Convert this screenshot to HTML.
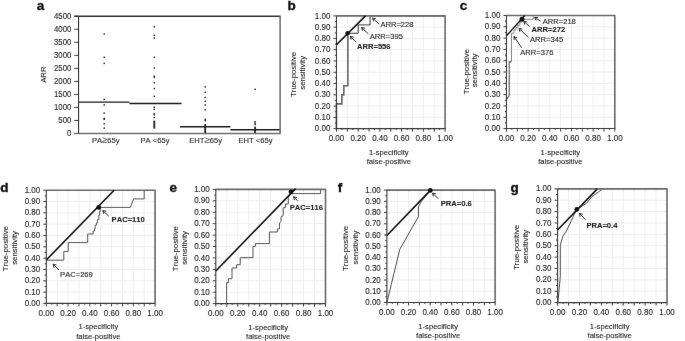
<!DOCTYPE html><html><head><meta charset="utf-8"><style>html,body{margin:0;padding:0;background:#fff;}svg{display:block;font-family:"Liberation Sans",sans-serif;}text{stroke-width:0.1px;stroke-linejoin:round;font-variant-ligatures:none;font-kerning:none;}</style></head><body>
<svg width="685" height="341" viewBox="0 0 685 341">
<defs><filter id="bl" x="0" y="0" width="1" height="1" color-interpolation-filters="sRGB"><feConvolveMatrix order="3" kernelMatrix="0.00163 0.03713 0.00163 0.03713 0.84497 0.03713 0.00163 0.03713 0.00163" divisor="1" edgeMode="duplicate"/></filter></defs>
<rect width="685" height="341" fill="#fff"/>
<g filter="url(#bl)">
<rect width="685" height="341" fill="#fff"/>
<text x="36.80" y="9.80" font-size="13.5" font-weight="bold" fill="#111" stroke="#111" style="stroke-width:0.35px">a</text>
<line x1="74.30" y1="133.50" x2="78.55" y2="133.50" stroke="#3a3a3a" stroke-width="1"/>
<text transform="translate(71.30 136.30) scale(1 1.06)" font-size="7.8" text-anchor="end" fill="#222" stroke="#222">0</text>
<line x1="74.30" y1="120.47" x2="78.55" y2="120.47" stroke="#3a3a3a" stroke-width="1"/>
<text transform="translate(71.30 123.27) scale(1 1.06)" font-size="7.8" text-anchor="end" fill="#222" stroke="#222">500</text>
<line x1="74.30" y1="107.44" x2="78.55" y2="107.44" stroke="#3a3a3a" stroke-width="1"/>
<text transform="translate(71.30 110.24) scale(1 1.06)" font-size="7.8" text-anchor="end" fill="#222" stroke="#222">1000</text>
<line x1="74.30" y1="94.42" x2="78.55" y2="94.42" stroke="#3a3a3a" stroke-width="1"/>
<text transform="translate(71.30 97.22) scale(1 1.06)" font-size="7.8" text-anchor="end" fill="#222" stroke="#222">1500</text>
<line x1="74.30" y1="81.39" x2="78.55" y2="81.39" stroke="#3a3a3a" stroke-width="1"/>
<text transform="translate(71.30 84.19) scale(1 1.06)" font-size="7.8" text-anchor="end" fill="#222" stroke="#222">2000</text>
<line x1="74.30" y1="68.36" x2="78.55" y2="68.36" stroke="#3a3a3a" stroke-width="1"/>
<text transform="translate(71.30 71.16) scale(1 1.06)" font-size="7.8" text-anchor="end" fill="#222" stroke="#222">2500</text>
<line x1="74.30" y1="55.33" x2="78.55" y2="55.33" stroke="#3a3a3a" stroke-width="1"/>
<text transform="translate(71.30 58.13) scale(1 1.06)" font-size="7.8" text-anchor="end" fill="#222" stroke="#222">3000</text>
<line x1="74.30" y1="42.31" x2="78.55" y2="42.31" stroke="#3a3a3a" stroke-width="1"/>
<text transform="translate(71.30 45.11) scale(1 1.06)" font-size="7.8" text-anchor="end" fill="#222" stroke="#222">3500</text>
<line x1="74.30" y1="29.28" x2="78.55" y2="29.28" stroke="#3a3a3a" stroke-width="1"/>
<text transform="translate(71.30 32.08) scale(1 1.06)" font-size="7.8" text-anchor="end" fill="#222" stroke="#222">4000</text>
<line x1="74.30" y1="16.25" x2="78.55" y2="16.25" stroke="#3a3a3a" stroke-width="1"/>
<text transform="translate(71.30 19.05) scale(1 1.06)" font-size="7.8" text-anchor="end" fill="#222" stroke="#222">4500</text>
<text transform="translate(45.60 74.60) rotate(-90)" font-size="7.8" text-anchor="middle" fill="#222" stroke="#222">ARR</text>
<line x1="78.55" y1="102.10" x2="129.40" y2="102.10" stroke="#1a1a1a" stroke-width="1.45"/>
<line x1="129.40" y1="103.50" x2="181.50" y2="103.50" stroke="#1a1a1a" stroke-width="1.45"/>
<line x1="180.10" y1="126.70" x2="230.40" y2="126.70" stroke="#1a1a1a" stroke-width="1.45"/>
<line x1="230.40" y1="129.70" x2="280.10" y2="129.70" stroke="#1a1a1a" stroke-width="1.45"/>
<rect x="103.48" y="33.28" width="1.45" height="1.45" fill="#222"/>
<rect x="103.48" y="56.58" width="1.45" height="1.45" fill="#222"/>
<rect x="103.48" y="62.68" width="1.45" height="1.45" fill="#222"/>
<rect x="103.48" y="98.68" width="1.45" height="1.45" fill="#222"/>
<rect x="103.48" y="104.18" width="1.45" height="1.45" fill="#222"/>
<rect x="103.48" y="112.38" width="1.45" height="1.45" fill="#222"/>
<rect x="103.48" y="117.58" width="1.45" height="1.45" fill="#222"/>
<rect x="103.48" y="118.58" width="1.45" height="1.45" fill="#222"/>
<rect x="103.48" y="123.08" width="1.45" height="1.45" fill="#222"/>
<rect x="103.48" y="127.38" width="1.45" height="1.45" fill="#222"/>
<rect x="153.58" y="26.08" width="1.45" height="1.45" fill="#222"/>
<rect x="153.58" y="34.58" width="1.45" height="1.45" fill="#222"/>
<rect x="153.58" y="37.38" width="1.45" height="1.45" fill="#222"/>
<rect x="153.58" y="56.58" width="1.45" height="1.45" fill="#222"/>
<rect x="153.58" y="67.38" width="1.45" height="1.45" fill="#222"/>
<rect x="153.58" y="75.48" width="1.45" height="1.45" fill="#222"/>
<rect x="153.58" y="76.68" width="1.45" height="1.45" fill="#222"/>
<rect x="153.58" y="81.98" width="1.45" height="1.45" fill="#222"/>
<rect x="153.58" y="87.78" width="1.45" height="1.45" fill="#222"/>
<rect x="153.58" y="95.58" width="1.45" height="1.45" fill="#222"/>
<rect x="153.58" y="106.48" width="1.45" height="1.45" fill="#222"/>
<rect x="153.58" y="108.48" width="1.45" height="1.45" fill="#222"/>
<rect x="153.58" y="113.08" width="1.45" height="1.45" fill="#222"/>
<rect x="153.58" y="113.98" width="1.45" height="1.45" fill="#222"/>
<rect x="153.58" y="116.98" width="1.45" height="1.45" fill="#222"/>
<rect x="204.48" y="86.18" width="1.45" height="1.45" fill="#222"/>
<rect x="204.48" y="91.58" width="1.45" height="1.45" fill="#222"/>
<rect x="204.48" y="96.78" width="1.45" height="1.45" fill="#222"/>
<rect x="204.48" y="100.58" width="1.45" height="1.45" fill="#222"/>
<rect x="204.48" y="104.18" width="1.45" height="1.45" fill="#222"/>
<rect x="204.48" y="109.08" width="1.45" height="1.45" fill="#222"/>
<rect x="204.48" y="118.58" width="1.45" height="1.45" fill="#222"/>
<rect x="204.48" y="119.98" width="1.45" height="1.45" fill="#222"/>
<rect x="254.38" y="88.58" width="1.45" height="1.45" fill="#222"/>
<rect x="254.38" y="121.08" width="1.45" height="1.45" fill="#222"/>
<rect x="254.38" y="122.38" width="1.45" height="1.45" fill="#222"/>
<rect x="254.38" y="123.88" width="1.45" height="1.45" fill="#222"/>
<rect x="153.4" y="120.6" width="1.8" height="8" fill="#222"/>
<rect x="204.3" y="124" width="1.8" height="9.4" fill="#222"/>
<rect x="254.2" y="126.7" width="1.8" height="6.7" fill="#222"/>
<line x1="74.20" y1="16.25" x2="280.60" y2="16.25" stroke="#333" stroke-width="1.3"/>
<line x1="280.10" y1="16.25" x2="280.10" y2="134.00" stroke="#6a6a6a" stroke-width="1.5"/>
<line x1="74.20" y1="133.50" x2="280.10" y2="133.50" stroke="#707070" stroke-width="1.6"/>
<line x1="78.55" y1="16.25" x2="78.55" y2="133.50" stroke="#333" stroke-width="1.1"/>
<text x="91.90" y="143.40" font-size="7.6" text-anchor="start" fill="#222" stroke="#222">PA<tspan font-size="9.6" fill="#666" stroke="#666" stroke-width="0.15">≥</tspan>65y</text>
<text x="155.00" y="143.40" font-size="7.6" text-anchor="middle" fill="#222" stroke="#222">PA &lt;65y</text>
<text x="189.30" y="143.40" font-size="7.6" text-anchor="start" fill="#222" stroke="#222">EHT<tspan font-size="9.6" fill="#666" stroke="#666" stroke-width="0.15">≥</tspan>65y</text>
<text x="255.50" y="143.40" font-size="7.6" text-anchor="middle" fill="#222" stroke="#222">EHT &lt;65y</text>
<line x1="347.31" y1="15.90" x2="347.31" y2="128.65" stroke="#efefef" stroke-width="1"/>
<line x1="336.45" y1="117.38" x2="445.10" y2="117.38" stroke="#efefef" stroke-width="1"/>
<line x1="358.18" y1="15.90" x2="358.18" y2="128.65" stroke="#efefef" stroke-width="1"/>
<line x1="336.45" y1="106.10" x2="445.10" y2="106.10" stroke="#efefef" stroke-width="1"/>
<line x1="369.05" y1="15.90" x2="369.05" y2="128.65" stroke="#efefef" stroke-width="1"/>
<line x1="336.45" y1="94.83" x2="445.10" y2="94.83" stroke="#efefef" stroke-width="1"/>
<line x1="379.91" y1="15.90" x2="379.91" y2="128.65" stroke="#efefef" stroke-width="1"/>
<line x1="336.45" y1="83.55" x2="445.10" y2="83.55" stroke="#efefef" stroke-width="1"/>
<line x1="390.78" y1="15.90" x2="390.78" y2="128.65" stroke="#efefef" stroke-width="1"/>
<line x1="336.45" y1="72.28" x2="445.10" y2="72.28" stroke="#efefef" stroke-width="1"/>
<line x1="401.64" y1="15.90" x2="401.64" y2="128.65" stroke="#efefef" stroke-width="1"/>
<line x1="336.45" y1="61.00" x2="445.10" y2="61.00" stroke="#efefef" stroke-width="1"/>
<line x1="412.50" y1="15.90" x2="412.50" y2="128.65" stroke="#efefef" stroke-width="1"/>
<line x1="336.45" y1="49.73" x2="445.10" y2="49.73" stroke="#efefef" stroke-width="1"/>
<line x1="423.37" y1="15.90" x2="423.37" y2="128.65" stroke="#efefef" stroke-width="1"/>
<line x1="336.45" y1="38.45" x2="445.10" y2="38.45" stroke="#efefef" stroke-width="1"/>
<line x1="434.24" y1="15.90" x2="434.24" y2="128.65" stroke="#efefef" stroke-width="1"/>
<line x1="336.45" y1="27.18" x2="445.10" y2="27.18" stroke="#efefef" stroke-width="1"/>
<line x1="333.45" y1="128.65" x2="336.45" y2="128.65" stroke="#3a3a3a" stroke-width="1"/>
<line x1="334.85" y1="123.01" x2="336.45" y2="123.01" stroke="#3a3a3a" stroke-width="1"/>
<line x1="333.45" y1="117.38" x2="336.45" y2="117.38" stroke="#3a3a3a" stroke-width="1"/>
<line x1="334.85" y1="111.74" x2="336.45" y2="111.74" stroke="#3a3a3a" stroke-width="1"/>
<line x1="333.45" y1="106.10" x2="336.45" y2="106.10" stroke="#3a3a3a" stroke-width="1"/>
<line x1="334.85" y1="100.46" x2="336.45" y2="100.46" stroke="#3a3a3a" stroke-width="1"/>
<line x1="333.45" y1="94.83" x2="336.45" y2="94.83" stroke="#3a3a3a" stroke-width="1"/>
<line x1="334.85" y1="89.19" x2="336.45" y2="89.19" stroke="#3a3a3a" stroke-width="1"/>
<line x1="333.45" y1="83.55" x2="336.45" y2="83.55" stroke="#3a3a3a" stroke-width="1"/>
<line x1="334.85" y1="77.91" x2="336.45" y2="77.91" stroke="#3a3a3a" stroke-width="1"/>
<line x1="333.45" y1="72.28" x2="336.45" y2="72.28" stroke="#3a3a3a" stroke-width="1"/>
<line x1="334.85" y1="66.64" x2="336.45" y2="66.64" stroke="#3a3a3a" stroke-width="1"/>
<line x1="333.45" y1="61.00" x2="336.45" y2="61.00" stroke="#3a3a3a" stroke-width="1"/>
<line x1="334.85" y1="55.36" x2="336.45" y2="55.36" stroke="#3a3a3a" stroke-width="1"/>
<line x1="333.45" y1="49.73" x2="336.45" y2="49.73" stroke="#3a3a3a" stroke-width="1"/>
<line x1="334.85" y1="44.09" x2="336.45" y2="44.09" stroke="#3a3a3a" stroke-width="1"/>
<line x1="333.45" y1="38.45" x2="336.45" y2="38.45" stroke="#3a3a3a" stroke-width="1"/>
<line x1="334.85" y1="32.81" x2="336.45" y2="32.81" stroke="#3a3a3a" stroke-width="1"/>
<line x1="333.45" y1="27.18" x2="336.45" y2="27.18" stroke="#3a3a3a" stroke-width="1"/>
<line x1="334.85" y1="21.54" x2="336.45" y2="21.54" stroke="#3a3a3a" stroke-width="1"/>
<line x1="333.45" y1="15.90" x2="336.45" y2="15.90" stroke="#3a3a3a" stroke-width="1"/>
<line x1="336.45" y1="128.65" x2="336.45" y2="131.65" stroke="#3a3a3a" stroke-width="1"/>
<line x1="341.88" y1="128.65" x2="341.88" y2="130.05" stroke="#3a3a3a" stroke-width="1"/>
<line x1="347.31" y1="128.65" x2="347.31" y2="131.65" stroke="#3a3a3a" stroke-width="1"/>
<line x1="352.75" y1="128.65" x2="352.75" y2="130.05" stroke="#3a3a3a" stroke-width="1"/>
<line x1="358.18" y1="128.65" x2="358.18" y2="131.65" stroke="#3a3a3a" stroke-width="1"/>
<line x1="363.61" y1="128.65" x2="363.61" y2="130.05" stroke="#3a3a3a" stroke-width="1"/>
<line x1="369.05" y1="128.65" x2="369.05" y2="131.65" stroke="#3a3a3a" stroke-width="1"/>
<line x1="374.48" y1="128.65" x2="374.48" y2="130.05" stroke="#3a3a3a" stroke-width="1"/>
<line x1="379.91" y1="128.65" x2="379.91" y2="131.65" stroke="#3a3a3a" stroke-width="1"/>
<line x1="385.34" y1="128.65" x2="385.34" y2="130.05" stroke="#3a3a3a" stroke-width="1"/>
<line x1="390.78" y1="128.65" x2="390.78" y2="131.65" stroke="#3a3a3a" stroke-width="1"/>
<line x1="396.21" y1="128.65" x2="396.21" y2="130.05" stroke="#3a3a3a" stroke-width="1"/>
<line x1="401.64" y1="128.65" x2="401.64" y2="131.65" stroke="#3a3a3a" stroke-width="1"/>
<line x1="407.07" y1="128.65" x2="407.07" y2="130.05" stroke="#3a3a3a" stroke-width="1"/>
<line x1="412.50" y1="128.65" x2="412.50" y2="131.65" stroke="#3a3a3a" stroke-width="1"/>
<line x1="417.94" y1="128.65" x2="417.94" y2="130.05" stroke="#3a3a3a" stroke-width="1"/>
<line x1="423.37" y1="128.65" x2="423.37" y2="131.65" stroke="#3a3a3a" stroke-width="1"/>
<line x1="428.80" y1="128.65" x2="428.80" y2="130.05" stroke="#3a3a3a" stroke-width="1"/>
<line x1="434.24" y1="128.65" x2="434.24" y2="131.65" stroke="#3a3a3a" stroke-width="1"/>
<line x1="439.67" y1="128.65" x2="439.67" y2="130.05" stroke="#3a3a3a" stroke-width="1"/>
<line x1="445.10" y1="128.65" x2="445.10" y2="131.65" stroke="#3a3a3a" stroke-width="1"/>
<text transform="translate(330.35 131.25) scale(1 1.06)" font-size="8.0" text-anchor="end" fill="#222" stroke="#222">0.00</text>
<text transform="translate(330.35 119.97) scale(1 1.06)" font-size="8.0" text-anchor="end" fill="#222" stroke="#222">0.10</text>
<text transform="translate(330.35 108.70) scale(1 1.06)" font-size="8.0" text-anchor="end" fill="#222" stroke="#222">0.20</text>
<text transform="translate(330.35 97.42) scale(1 1.06)" font-size="8.0" text-anchor="end" fill="#222" stroke="#222">0.30</text>
<text transform="translate(330.35 86.15) scale(1 1.06)" font-size="8.0" text-anchor="end" fill="#222" stroke="#222">0.40</text>
<text transform="translate(330.35 74.88) scale(1 1.06)" font-size="8.0" text-anchor="end" fill="#222" stroke="#222">0.50</text>
<text transform="translate(330.35 63.60) scale(1 1.06)" font-size="8.0" text-anchor="end" fill="#222" stroke="#222">0.60</text>
<text transform="translate(330.35 52.33) scale(1 1.06)" font-size="8.0" text-anchor="end" fill="#222" stroke="#222">0.70</text>
<text transform="translate(330.35 41.05) scale(1 1.06)" font-size="8.0" text-anchor="end" fill="#222" stroke="#222">0.80</text>
<text transform="translate(330.35 29.78) scale(1 1.06)" font-size="8.0" text-anchor="end" fill="#222" stroke="#222">0.90</text>
<text transform="translate(330.35 18.50) scale(1 1.06)" font-size="8.0" text-anchor="end" fill="#222" stroke="#222">1.00</text>
<text transform="translate(336.45 141.10) scale(1 1.06)" font-size="8.0" text-anchor="middle" fill="#222" stroke="#222">0.00</text>
<text transform="translate(358.18 141.10) scale(1 1.06)" font-size="8.0" text-anchor="middle" fill="#222" stroke="#222">0.20</text>
<text transform="translate(379.91 141.10) scale(1 1.06)" font-size="8.0" text-anchor="middle" fill="#222" stroke="#222">0.40</text>
<text transform="translate(401.64 141.10) scale(1 1.06)" font-size="8.0" text-anchor="middle" fill="#222" stroke="#222">0.60</text>
<text transform="translate(423.37 141.10) scale(1 1.06)" font-size="8.0" text-anchor="middle" fill="#222" stroke="#222">0.80</text>
<text transform="translate(445.10 141.10) scale(1 1.06)" font-size="8.0" text-anchor="middle" fill="#222" stroke="#222">1.00</text>
<text x="388.80" y="154.65" font-size="7.6" text-anchor="middle" fill="#222" stroke="#222">1-specificity</text>
<text x="388.80" y="163.75" font-size="7.6" text-anchor="middle" fill="#222" stroke="#222">false-positive</text>
<text transform="translate(296.30 74.40) rotate(-90)" font-size="7.8" text-anchor="middle" fill="#222" stroke="#222">True-positive</text>
<text transform="translate(305.20 72.80) rotate(-90)" font-size="7.8" text-anchor="middle" fill="#222" stroke="#222">sensitivity</text>
<text x="287.60" y="9.90" font-size="13.5" font-weight="bold" fill="#111" stroke="#111" style="stroke-width:0.35px">b</text>
<polyline points="336.45,128.65 336.45,103.84 341.88,103.84 341.88,94.83 343.84,94.83 343.84,85.81 347.86,85.81 347.86,33.26" fill="none" stroke="#666" stroke-width="1.6" stroke-linejoin="miter"/>
<polyline points="347.31,33.26 358.18,33.26 358.18,24.92 370.13,24.92 370.13,15.90 445.10,15.90" fill="none" stroke="#3a3a3a" stroke-width="1.0" stroke-linejoin="miter"/>
<polyline points="336.45,15.90 445.10,15.90 445.10,128.65" fill="none" stroke="#6a6a6a" stroke-width="1.6" stroke-linejoin="round"/>
<line x1="336.45" y1="15.60" x2="336.45" y2="129.15" stroke="#3a3a3a" stroke-width="1.1"/>
<line x1="335.95" y1="128.65" x2="445.60" y2="128.65" stroke="#3a3a3a" stroke-width="1.1"/>
<polyline points="336.45,44.70 365.50,15.90" fill="none" stroke="#111" stroke-width="1.6" stroke-linejoin="miter"/>
<circle cx="347.60" cy="33.20" r="2.3" fill="#111"/>
<line x1="379.00" y1="24.00" x2="372.60" y2="18.10" stroke="#1a1a1a" stroke-width="0.9"/>
<line x1="372.60" y1="18.10" x2="373.50" y2="21.38" stroke="#1a1a1a" stroke-width="0.9"/>
<line x1="372.60" y1="18.10" x2="375.94" y2="18.73" stroke="#1a1a1a" stroke-width="0.9"/>
<line x1="368.30" y1="33.80" x2="361.60" y2="27.60" stroke="#1a1a1a" stroke-width="0.9"/>
<line x1="361.60" y1="27.60" x2="362.49" y2="30.88" stroke="#1a1a1a" stroke-width="0.9"/>
<line x1="361.60" y1="27.60" x2="364.94" y2="28.24" stroke="#1a1a1a" stroke-width="0.9"/>
<line x1="356.50" y1="42.30" x2="350.30" y2="36.40" stroke="#1a1a1a" stroke-width="0.9"/>
<line x1="350.30" y1="36.40" x2="351.15" y2="39.69" stroke="#1a1a1a" stroke-width="0.9"/>
<line x1="350.30" y1="36.40" x2="353.63" y2="37.08" stroke="#1a1a1a" stroke-width="0.9"/>
<text x="380.40" y="27.30" font-size="7.6" text-anchor="start" fill="#222" stroke="#222">ARR=228</text>
<text x="369.80" y="38.70" font-size="7.6" text-anchor="start" fill="#222" stroke="#222">ARR=395</text>
<text x="357.00" y="49.40" font-size="7.6" text-anchor="start" font-weight="bold" fill="#222" stroke="#222">ARR=556</text>
<line x1="517.28" y1="15.50" x2="517.28" y2="128.55" stroke="#efefef" stroke-width="1"/>
<line x1="506.45" y1="117.25" x2="614.80" y2="117.25" stroke="#efefef" stroke-width="1"/>
<line x1="528.12" y1="15.50" x2="528.12" y2="128.55" stroke="#efefef" stroke-width="1"/>
<line x1="506.45" y1="105.94" x2="614.80" y2="105.94" stroke="#efefef" stroke-width="1"/>
<line x1="538.95" y1="15.50" x2="538.95" y2="128.55" stroke="#efefef" stroke-width="1"/>
<line x1="506.45" y1="94.64" x2="614.80" y2="94.64" stroke="#efefef" stroke-width="1"/>
<line x1="549.79" y1="15.50" x2="549.79" y2="128.55" stroke="#efefef" stroke-width="1"/>
<line x1="506.45" y1="83.33" x2="614.80" y2="83.33" stroke="#efefef" stroke-width="1"/>
<line x1="560.62" y1="15.50" x2="560.62" y2="128.55" stroke="#efefef" stroke-width="1"/>
<line x1="506.45" y1="72.03" x2="614.80" y2="72.03" stroke="#efefef" stroke-width="1"/>
<line x1="571.46" y1="15.50" x2="571.46" y2="128.55" stroke="#efefef" stroke-width="1"/>
<line x1="506.45" y1="60.72" x2="614.80" y2="60.72" stroke="#efefef" stroke-width="1"/>
<line x1="582.29" y1="15.50" x2="582.29" y2="128.55" stroke="#efefef" stroke-width="1"/>
<line x1="506.45" y1="49.41" x2="614.80" y2="49.41" stroke="#efefef" stroke-width="1"/>
<line x1="593.13" y1="15.50" x2="593.13" y2="128.55" stroke="#efefef" stroke-width="1"/>
<line x1="506.45" y1="38.11" x2="614.80" y2="38.11" stroke="#efefef" stroke-width="1"/>
<line x1="603.96" y1="15.50" x2="603.96" y2="128.55" stroke="#efefef" stroke-width="1"/>
<line x1="506.45" y1="26.81" x2="614.80" y2="26.81" stroke="#efefef" stroke-width="1"/>
<line x1="503.45" y1="128.55" x2="506.45" y2="128.55" stroke="#3a3a3a" stroke-width="1"/>
<line x1="504.85" y1="122.90" x2="506.45" y2="122.90" stroke="#3a3a3a" stroke-width="1"/>
<line x1="503.45" y1="117.25" x2="506.45" y2="117.25" stroke="#3a3a3a" stroke-width="1"/>
<line x1="504.85" y1="111.59" x2="506.45" y2="111.59" stroke="#3a3a3a" stroke-width="1"/>
<line x1="503.45" y1="105.94" x2="506.45" y2="105.94" stroke="#3a3a3a" stroke-width="1"/>
<line x1="504.85" y1="100.29" x2="506.45" y2="100.29" stroke="#3a3a3a" stroke-width="1"/>
<line x1="503.45" y1="94.64" x2="506.45" y2="94.64" stroke="#3a3a3a" stroke-width="1"/>
<line x1="504.85" y1="88.98" x2="506.45" y2="88.98" stroke="#3a3a3a" stroke-width="1"/>
<line x1="503.45" y1="83.33" x2="506.45" y2="83.33" stroke="#3a3a3a" stroke-width="1"/>
<line x1="504.85" y1="77.68" x2="506.45" y2="77.68" stroke="#3a3a3a" stroke-width="1"/>
<line x1="503.45" y1="72.03" x2="506.45" y2="72.03" stroke="#3a3a3a" stroke-width="1"/>
<line x1="504.85" y1="66.37" x2="506.45" y2="66.37" stroke="#3a3a3a" stroke-width="1"/>
<line x1="503.45" y1="60.72" x2="506.45" y2="60.72" stroke="#3a3a3a" stroke-width="1"/>
<line x1="504.85" y1="55.07" x2="506.45" y2="55.07" stroke="#3a3a3a" stroke-width="1"/>
<line x1="503.45" y1="49.41" x2="506.45" y2="49.41" stroke="#3a3a3a" stroke-width="1"/>
<line x1="504.85" y1="43.76" x2="506.45" y2="43.76" stroke="#3a3a3a" stroke-width="1"/>
<line x1="503.45" y1="38.11" x2="506.45" y2="38.11" stroke="#3a3a3a" stroke-width="1"/>
<line x1="504.85" y1="32.46" x2="506.45" y2="32.46" stroke="#3a3a3a" stroke-width="1"/>
<line x1="503.45" y1="26.81" x2="506.45" y2="26.81" stroke="#3a3a3a" stroke-width="1"/>
<line x1="504.85" y1="21.15" x2="506.45" y2="21.15" stroke="#3a3a3a" stroke-width="1"/>
<line x1="503.45" y1="15.50" x2="506.45" y2="15.50" stroke="#3a3a3a" stroke-width="1"/>
<line x1="506.45" y1="128.55" x2="506.45" y2="131.55" stroke="#3a3a3a" stroke-width="1"/>
<line x1="511.87" y1="128.55" x2="511.87" y2="129.95" stroke="#3a3a3a" stroke-width="1"/>
<line x1="517.28" y1="128.55" x2="517.28" y2="131.55" stroke="#3a3a3a" stroke-width="1"/>
<line x1="522.70" y1="128.55" x2="522.70" y2="129.95" stroke="#3a3a3a" stroke-width="1"/>
<line x1="528.12" y1="128.55" x2="528.12" y2="131.55" stroke="#3a3a3a" stroke-width="1"/>
<line x1="533.54" y1="128.55" x2="533.54" y2="129.95" stroke="#3a3a3a" stroke-width="1"/>
<line x1="538.95" y1="128.55" x2="538.95" y2="131.55" stroke="#3a3a3a" stroke-width="1"/>
<line x1="544.37" y1="128.55" x2="544.37" y2="129.95" stroke="#3a3a3a" stroke-width="1"/>
<line x1="549.79" y1="128.55" x2="549.79" y2="131.55" stroke="#3a3a3a" stroke-width="1"/>
<line x1="555.21" y1="128.55" x2="555.21" y2="129.95" stroke="#3a3a3a" stroke-width="1"/>
<line x1="560.62" y1="128.55" x2="560.62" y2="131.55" stroke="#3a3a3a" stroke-width="1"/>
<line x1="566.04" y1="128.55" x2="566.04" y2="129.95" stroke="#3a3a3a" stroke-width="1"/>
<line x1="571.46" y1="128.55" x2="571.46" y2="131.55" stroke="#3a3a3a" stroke-width="1"/>
<line x1="576.88" y1="128.55" x2="576.88" y2="129.95" stroke="#3a3a3a" stroke-width="1"/>
<line x1="582.29" y1="128.55" x2="582.29" y2="131.55" stroke="#3a3a3a" stroke-width="1"/>
<line x1="587.71" y1="128.55" x2="587.71" y2="129.95" stroke="#3a3a3a" stroke-width="1"/>
<line x1="593.13" y1="128.55" x2="593.13" y2="131.55" stroke="#3a3a3a" stroke-width="1"/>
<line x1="598.55" y1="128.55" x2="598.55" y2="129.95" stroke="#3a3a3a" stroke-width="1"/>
<line x1="603.96" y1="128.55" x2="603.96" y2="131.55" stroke="#3a3a3a" stroke-width="1"/>
<line x1="609.38" y1="128.55" x2="609.38" y2="129.95" stroke="#3a3a3a" stroke-width="1"/>
<line x1="614.80" y1="128.55" x2="614.80" y2="131.55" stroke="#3a3a3a" stroke-width="1"/>
<text transform="translate(500.35 131.15) scale(1 1.06)" font-size="8.0" text-anchor="end" fill="#222" stroke="#222">0.00</text>
<text transform="translate(500.35 119.84) scale(1 1.06)" font-size="8.0" text-anchor="end" fill="#222" stroke="#222">0.10</text>
<text transform="translate(500.35 108.54) scale(1 1.06)" font-size="8.0" text-anchor="end" fill="#222" stroke="#222">0.20</text>
<text transform="translate(500.35 97.23) scale(1 1.06)" font-size="8.0" text-anchor="end" fill="#222" stroke="#222">0.30</text>
<text transform="translate(500.35 85.93) scale(1 1.06)" font-size="8.0" text-anchor="end" fill="#222" stroke="#222">0.40</text>
<text transform="translate(500.35 74.62) scale(1 1.06)" font-size="8.0" text-anchor="end" fill="#222" stroke="#222">0.50</text>
<text transform="translate(500.35 63.32) scale(1 1.06)" font-size="8.0" text-anchor="end" fill="#222" stroke="#222">0.60</text>
<text transform="translate(500.35 52.01) scale(1 1.06)" font-size="8.0" text-anchor="end" fill="#222" stroke="#222">0.70</text>
<text transform="translate(500.35 40.71) scale(1 1.06)" font-size="8.0" text-anchor="end" fill="#222" stroke="#222">0.80</text>
<text transform="translate(500.35 29.41) scale(1 1.06)" font-size="8.0" text-anchor="end" fill="#222" stroke="#222">0.90</text>
<text transform="translate(500.35 18.10) scale(1 1.06)" font-size="8.0" text-anchor="end" fill="#222" stroke="#222">1.00</text>
<text transform="translate(506.45 141.00) scale(1 1.06)" font-size="8.0" text-anchor="middle" fill="#222" stroke="#222">0.00</text>
<text transform="translate(528.12 141.00) scale(1 1.06)" font-size="8.0" text-anchor="middle" fill="#222" stroke="#222">0.20</text>
<text transform="translate(549.79 141.00) scale(1 1.06)" font-size="8.0" text-anchor="middle" fill="#222" stroke="#222">0.40</text>
<text transform="translate(571.46 141.00) scale(1 1.06)" font-size="8.0" text-anchor="middle" fill="#222" stroke="#222">0.60</text>
<text transform="translate(593.13 141.00) scale(1 1.06)" font-size="8.0" text-anchor="middle" fill="#222" stroke="#222">0.80</text>
<text transform="translate(614.80 141.00) scale(1 1.06)" font-size="8.0" text-anchor="middle" fill="#222" stroke="#222">1.00</text>
<text x="560.30" y="154.55" font-size="7.6" text-anchor="middle" fill="#222" stroke="#222">1-specificity</text>
<text x="560.30" y="163.65" font-size="7.6" text-anchor="middle" fill="#222" stroke="#222">false-positive</text>
<text transform="translate(468.70 71.60) rotate(-90)" font-size="7.8" text-anchor="middle" fill="#222" stroke="#222">True-positive</text>
<text transform="translate(476.80 70.40) rotate(-90)" font-size="7.8" text-anchor="middle" fill="#222" stroke="#222">sensitivity</text>
<text x="459.80" y="10.00" font-size="13.5" font-weight="bold" fill="#111" stroke="#111" style="stroke-width:0.35px">c</text>
<polyline points="506.45,99.60 509.20,95.50 509.20,61.90 511.50,61.90" fill="none" stroke="#555" stroke-width="1.1" stroke-linejoin="miter"/>
<polyline points="511.50,61.90 511.50,33.20 514.00,33.20 514.00,30.00 516.00,30.00 516.00,27.50 518.00,27.50 518.00,25.00 520.00,25.00 520.00,22.00 522.00,22.00 522.00,19.30 533.20,19.30 533.20,15.50" fill="none" stroke="#888" stroke-width="1.0" stroke-linejoin="miter"/>
<polyline points="506.45,15.50 614.80,15.50 614.80,128.55" fill="none" stroke="#6a6a6a" stroke-width="1.6" stroke-linejoin="round"/>
<line x1="506.45" y1="15.20" x2="506.45" y2="129.05" stroke="#3a3a3a" stroke-width="1.1"/>
<line x1="505.95" y1="128.55" x2="615.30" y2="128.55" stroke="#3a3a3a" stroke-width="1.1"/>
<polyline points="506.45,35.80 524.80,15.50" fill="none" stroke="#111" stroke-width="1.35" stroke-linejoin="miter"/>
<circle cx="522.00" cy="19.30" r="2.5" fill="#111"/>
<line x1="540.60" y1="21.00" x2="534.60" y2="17.60" stroke="#1a1a1a" stroke-width="0.9"/>
<line x1="534.60" y1="17.60" x2="536.22" y2="20.59" stroke="#1a1a1a" stroke-width="0.9"/>
<line x1="534.60" y1="17.60" x2="538.00" y2="17.45" stroke="#1a1a1a" stroke-width="0.9"/>
<line x1="529.80" y1="26.60" x2="523.80" y2="21.40" stroke="#1a1a1a" stroke-width="0.9"/>
<line x1="523.80" y1="21.40" x2="524.80" y2="24.65" stroke="#1a1a1a" stroke-width="0.9"/>
<line x1="523.80" y1="21.40" x2="527.16" y2="21.93" stroke="#1a1a1a" stroke-width="0.9"/>
<line x1="528.40" y1="37.20" x2="519.00" y2="28.50" stroke="#1a1a1a" stroke-width="0.9"/>
<line x1="519.00" y1="28.50" x2="519.89" y2="31.78" stroke="#1a1a1a" stroke-width="0.9"/>
<line x1="519.00" y1="28.50" x2="522.34" y2="29.14" stroke="#1a1a1a" stroke-width="0.9"/>
<line x1="521.60" y1="47.60" x2="514.00" y2="36.60" stroke="#1a1a1a" stroke-width="0.9"/>
<line x1="514.00" y1="36.60" x2="514.16" y2="40.00" stroke="#1a1a1a" stroke-width="0.9"/>
<line x1="514.00" y1="36.60" x2="517.12" y2="37.95" stroke="#1a1a1a" stroke-width="0.9"/>
<text x="542.70" y="23.90" font-size="7.6" text-anchor="start" fill="#222" stroke="#222">ARR=218</text>
<text x="531.60" y="32.10" font-size="7.6" text-anchor="start" font-weight="bold" fill="#222" stroke="#222">ARR=272</text>
<text x="530.00" y="42.40" font-size="7.6" text-anchor="start" fill="#222" stroke="#222">ARR=345</text>
<text x="520.30" y="54.50" font-size="7.6" text-anchor="start" fill="#222" stroke="#222">ARR=376</text>
<line x1="57.18" y1="190.25" x2="57.18" y2="303.40" stroke="#efefef" stroke-width="1"/>
<line x1="46.30" y1="292.08" x2="155.10" y2="292.08" stroke="#efefef" stroke-width="1"/>
<line x1="68.06" y1="190.25" x2="68.06" y2="303.40" stroke="#efefef" stroke-width="1"/>
<line x1="46.30" y1="280.77" x2="155.10" y2="280.77" stroke="#efefef" stroke-width="1"/>
<line x1="78.94" y1="190.25" x2="78.94" y2="303.40" stroke="#efefef" stroke-width="1"/>
<line x1="46.30" y1="269.45" x2="155.10" y2="269.45" stroke="#efefef" stroke-width="1"/>
<line x1="89.82" y1="190.25" x2="89.82" y2="303.40" stroke="#efefef" stroke-width="1"/>
<line x1="46.30" y1="258.14" x2="155.10" y2="258.14" stroke="#efefef" stroke-width="1"/>
<line x1="100.70" y1="190.25" x2="100.70" y2="303.40" stroke="#efefef" stroke-width="1"/>
<line x1="46.30" y1="246.82" x2="155.10" y2="246.82" stroke="#efefef" stroke-width="1"/>
<line x1="111.58" y1="190.25" x2="111.58" y2="303.40" stroke="#efefef" stroke-width="1"/>
<line x1="46.30" y1="235.51" x2="155.10" y2="235.51" stroke="#efefef" stroke-width="1"/>
<line x1="122.46" y1="190.25" x2="122.46" y2="303.40" stroke="#efefef" stroke-width="1"/>
<line x1="46.30" y1="224.19" x2="155.10" y2="224.19" stroke="#efefef" stroke-width="1"/>
<line x1="133.34" y1="190.25" x2="133.34" y2="303.40" stroke="#efefef" stroke-width="1"/>
<line x1="46.30" y1="212.88" x2="155.10" y2="212.88" stroke="#efefef" stroke-width="1"/>
<line x1="144.22" y1="190.25" x2="144.22" y2="303.40" stroke="#efefef" stroke-width="1"/>
<line x1="46.30" y1="201.56" x2="155.10" y2="201.56" stroke="#efefef" stroke-width="1"/>
<line x1="43.30" y1="303.40" x2="46.30" y2="303.40" stroke="#3a3a3a" stroke-width="1"/>
<line x1="44.70" y1="297.74" x2="46.30" y2="297.74" stroke="#3a3a3a" stroke-width="1"/>
<line x1="43.30" y1="292.08" x2="46.30" y2="292.08" stroke="#3a3a3a" stroke-width="1"/>
<line x1="44.70" y1="286.43" x2="46.30" y2="286.43" stroke="#3a3a3a" stroke-width="1"/>
<line x1="43.30" y1="280.77" x2="46.30" y2="280.77" stroke="#3a3a3a" stroke-width="1"/>
<line x1="44.70" y1="275.11" x2="46.30" y2="275.11" stroke="#3a3a3a" stroke-width="1"/>
<line x1="43.30" y1="269.45" x2="46.30" y2="269.45" stroke="#3a3a3a" stroke-width="1"/>
<line x1="44.70" y1="263.80" x2="46.30" y2="263.80" stroke="#3a3a3a" stroke-width="1"/>
<line x1="43.30" y1="258.14" x2="46.30" y2="258.14" stroke="#3a3a3a" stroke-width="1"/>
<line x1="44.70" y1="252.48" x2="46.30" y2="252.48" stroke="#3a3a3a" stroke-width="1"/>
<line x1="43.30" y1="246.82" x2="46.30" y2="246.82" stroke="#3a3a3a" stroke-width="1"/>
<line x1="44.70" y1="241.17" x2="46.30" y2="241.17" stroke="#3a3a3a" stroke-width="1"/>
<line x1="43.30" y1="235.51" x2="46.30" y2="235.51" stroke="#3a3a3a" stroke-width="1"/>
<line x1="44.70" y1="229.85" x2="46.30" y2="229.85" stroke="#3a3a3a" stroke-width="1"/>
<line x1="43.30" y1="224.19" x2="46.30" y2="224.19" stroke="#3a3a3a" stroke-width="1"/>
<line x1="44.70" y1="218.54" x2="46.30" y2="218.54" stroke="#3a3a3a" stroke-width="1"/>
<line x1="43.30" y1="212.88" x2="46.30" y2="212.88" stroke="#3a3a3a" stroke-width="1"/>
<line x1="44.70" y1="207.22" x2="46.30" y2="207.22" stroke="#3a3a3a" stroke-width="1"/>
<line x1="43.30" y1="201.56" x2="46.30" y2="201.56" stroke="#3a3a3a" stroke-width="1"/>
<line x1="44.70" y1="195.91" x2="46.30" y2="195.91" stroke="#3a3a3a" stroke-width="1"/>
<line x1="43.30" y1="190.25" x2="46.30" y2="190.25" stroke="#3a3a3a" stroke-width="1"/>
<line x1="46.30" y1="303.40" x2="46.30" y2="306.40" stroke="#3a3a3a" stroke-width="1"/>
<line x1="51.74" y1="303.40" x2="51.74" y2="304.80" stroke="#3a3a3a" stroke-width="1"/>
<line x1="57.18" y1="303.40" x2="57.18" y2="306.40" stroke="#3a3a3a" stroke-width="1"/>
<line x1="62.62" y1="303.40" x2="62.62" y2="304.80" stroke="#3a3a3a" stroke-width="1"/>
<line x1="68.06" y1="303.40" x2="68.06" y2="306.40" stroke="#3a3a3a" stroke-width="1"/>
<line x1="73.50" y1="303.40" x2="73.50" y2="304.80" stroke="#3a3a3a" stroke-width="1"/>
<line x1="78.94" y1="303.40" x2="78.94" y2="306.40" stroke="#3a3a3a" stroke-width="1"/>
<line x1="84.38" y1="303.40" x2="84.38" y2="304.80" stroke="#3a3a3a" stroke-width="1"/>
<line x1="89.82" y1="303.40" x2="89.82" y2="306.40" stroke="#3a3a3a" stroke-width="1"/>
<line x1="95.26" y1="303.40" x2="95.26" y2="304.80" stroke="#3a3a3a" stroke-width="1"/>
<line x1="100.70" y1="303.40" x2="100.70" y2="306.40" stroke="#3a3a3a" stroke-width="1"/>
<line x1="106.14" y1="303.40" x2="106.14" y2="304.80" stroke="#3a3a3a" stroke-width="1"/>
<line x1="111.58" y1="303.40" x2="111.58" y2="306.40" stroke="#3a3a3a" stroke-width="1"/>
<line x1="117.02" y1="303.40" x2="117.02" y2="304.80" stroke="#3a3a3a" stroke-width="1"/>
<line x1="122.46" y1="303.40" x2="122.46" y2="306.40" stroke="#3a3a3a" stroke-width="1"/>
<line x1="127.90" y1="303.40" x2="127.90" y2="304.80" stroke="#3a3a3a" stroke-width="1"/>
<line x1="133.34" y1="303.40" x2="133.34" y2="306.40" stroke="#3a3a3a" stroke-width="1"/>
<line x1="138.78" y1="303.40" x2="138.78" y2="304.80" stroke="#3a3a3a" stroke-width="1"/>
<line x1="144.22" y1="303.40" x2="144.22" y2="306.40" stroke="#3a3a3a" stroke-width="1"/>
<line x1="149.66" y1="303.40" x2="149.66" y2="304.80" stroke="#3a3a3a" stroke-width="1"/>
<line x1="155.10" y1="303.40" x2="155.10" y2="306.40" stroke="#3a3a3a" stroke-width="1"/>
<text transform="translate(40.20 306.00) scale(1 1.06)" font-size="8.0" text-anchor="end" fill="#222" stroke="#222">0.00</text>
<text transform="translate(40.20 294.69) scale(1 1.06)" font-size="8.0" text-anchor="end" fill="#222" stroke="#222">0.10</text>
<text transform="translate(40.20 283.37) scale(1 1.06)" font-size="8.0" text-anchor="end" fill="#222" stroke="#222">0.20</text>
<text transform="translate(40.20 272.06) scale(1 1.06)" font-size="8.0" text-anchor="end" fill="#222" stroke="#222">0.30</text>
<text transform="translate(40.20 260.74) scale(1 1.06)" font-size="8.0" text-anchor="end" fill="#222" stroke="#222">0.40</text>
<text transform="translate(40.20 249.42) scale(1 1.06)" font-size="8.0" text-anchor="end" fill="#222" stroke="#222">0.50</text>
<text transform="translate(40.20 238.11) scale(1 1.06)" font-size="8.0" text-anchor="end" fill="#222" stroke="#222">0.60</text>
<text transform="translate(40.20 226.79) scale(1 1.06)" font-size="8.0" text-anchor="end" fill="#222" stroke="#222">0.70</text>
<text transform="translate(40.20 215.48) scale(1 1.06)" font-size="8.0" text-anchor="end" fill="#222" stroke="#222">0.80</text>
<text transform="translate(40.20 204.16) scale(1 1.06)" font-size="8.0" text-anchor="end" fill="#222" stroke="#222">0.90</text>
<text transform="translate(40.20 192.85) scale(1 1.06)" font-size="8.0" text-anchor="end" fill="#222" stroke="#222">1.00</text>
<text transform="translate(46.30 315.85) scale(1 1.06)" font-size="8.0" text-anchor="middle" fill="#222" stroke="#222">0.00</text>
<text transform="translate(68.06 315.85) scale(1 1.06)" font-size="8.0" text-anchor="middle" fill="#222" stroke="#222">0.20</text>
<text transform="translate(89.82 315.85) scale(1 1.06)" font-size="8.0" text-anchor="middle" fill="#222" stroke="#222">0.40</text>
<text transform="translate(111.58 315.85) scale(1 1.06)" font-size="8.0" text-anchor="middle" fill="#222" stroke="#222">0.60</text>
<text transform="translate(133.34 315.85) scale(1 1.06)" font-size="8.0" text-anchor="middle" fill="#222" stroke="#222">0.80</text>
<text transform="translate(155.10 315.85) scale(1 1.06)" font-size="8.0" text-anchor="middle" fill="#222" stroke="#222">1.00</text>
<text x="98.40" y="329.40" font-size="7.6" text-anchor="middle" fill="#222" stroke="#222">1-specificity</text>
<text x="98.40" y="338.50" font-size="7.6" text-anchor="middle" fill="#222" stroke="#222">false-positive</text>
<text transform="translate(8.10 248.60) rotate(-90)" font-size="7.8" text-anchor="middle" fill="#222" stroke="#222">True-positive</text>
<text transform="translate(16.90 247.90) rotate(-90)" font-size="7.8" text-anchor="middle" fill="#222" stroke="#222">sensitivity</text>
<text x="0.30" y="192.10" font-size="13.5" font-weight="bold" fill="#111" stroke="#111" style="stroke-width:0.35px">d</text>
<polyline points="46.30,260.20 63.80,260.20 63.80,251.40 68.20,251.40 68.20,242.60 87.70,242.60 87.70,234.00 93.10,234.00 93.10,231.00 94.60,231.00 94.60,228.70 95.20,228.70 95.20,225.20 96.40,225.20 96.40,222.90 97.60,222.90 97.60,219.50 98.80,219.50 98.80,215.20 99.60,215.20 99.60,211.50 100.30,211.50 100.30,208.50 98.70,207.40 130.30,207.40 133.60,198.90 144.20,198.90 144.20,190.25" fill="none" stroke="#555" stroke-width="1.0" stroke-linejoin="miter"/>
<polyline points="46.30,190.25 155.10,190.25 155.10,303.40" fill="none" stroke="#6a6a6a" stroke-width="1.6" stroke-linejoin="round"/>
<line x1="46.30" y1="189.95" x2="46.30" y2="303.90" stroke="#3a3a3a" stroke-width="1.1"/>
<line x1="45.80" y1="303.40" x2="155.60" y2="303.40" stroke="#3a3a3a" stroke-width="1.1"/>
<polyline points="46.30,260.00 114.10,190.25" fill="none" stroke="#111" stroke-width="1.6" stroke-linejoin="miter"/>
<circle cx="98.70" cy="207.40" r="2.4" fill="#111"/>
<line x1="58.90" y1="269.90" x2="53.10" y2="264.30" stroke="#1a1a1a" stroke-width="0.9"/>
<line x1="53.10" y1="264.30" x2="53.92" y2="267.60" stroke="#1a1a1a" stroke-width="0.9"/>
<line x1="53.10" y1="264.30" x2="56.43" y2="265.01" stroke="#1a1a1a" stroke-width="0.9"/>
<line x1="108.90" y1="216.30" x2="102.80" y2="210.60" stroke="#1a1a1a" stroke-width="0.9"/>
<line x1="102.80" y1="210.60" x2="103.68" y2="213.89" stroke="#1a1a1a" stroke-width="0.9"/>
<line x1="102.80" y1="210.60" x2="106.14" y2="211.25" stroke="#1a1a1a" stroke-width="0.9"/>
<text x="60.10" y="277.10" font-size="7.6" text-anchor="start" fill="#222" stroke="#222">PAC=269</text>
<text x="111.60" y="221.50" font-size="7.6" text-anchor="start" font-weight="bold" fill="#222" stroke="#222">PAC=110</text>
<line x1="226.77" y1="189.40" x2="226.77" y2="303.60" stroke="#efefef" stroke-width="1"/>
<line x1="215.80" y1="292.18" x2="325.50" y2="292.18" stroke="#efefef" stroke-width="1"/>
<line x1="237.74" y1="189.40" x2="237.74" y2="303.60" stroke="#efefef" stroke-width="1"/>
<line x1="215.80" y1="280.76" x2="325.50" y2="280.76" stroke="#efefef" stroke-width="1"/>
<line x1="248.71" y1="189.40" x2="248.71" y2="303.60" stroke="#efefef" stroke-width="1"/>
<line x1="215.80" y1="269.34" x2="325.50" y2="269.34" stroke="#efefef" stroke-width="1"/>
<line x1="259.68" y1="189.40" x2="259.68" y2="303.60" stroke="#efefef" stroke-width="1"/>
<line x1="215.80" y1="257.92" x2="325.50" y2="257.92" stroke="#efefef" stroke-width="1"/>
<line x1="270.65" y1="189.40" x2="270.65" y2="303.60" stroke="#efefef" stroke-width="1"/>
<line x1="215.80" y1="246.50" x2="325.50" y2="246.50" stroke="#efefef" stroke-width="1"/>
<line x1="281.62" y1="189.40" x2="281.62" y2="303.60" stroke="#efefef" stroke-width="1"/>
<line x1="215.80" y1="235.08" x2="325.50" y2="235.08" stroke="#efefef" stroke-width="1"/>
<line x1="292.59" y1="189.40" x2="292.59" y2="303.60" stroke="#efefef" stroke-width="1"/>
<line x1="215.80" y1="223.66" x2="325.50" y2="223.66" stroke="#efefef" stroke-width="1"/>
<line x1="303.56" y1="189.40" x2="303.56" y2="303.60" stroke="#efefef" stroke-width="1"/>
<line x1="215.80" y1="212.24" x2="325.50" y2="212.24" stroke="#efefef" stroke-width="1"/>
<line x1="314.53" y1="189.40" x2="314.53" y2="303.60" stroke="#efefef" stroke-width="1"/>
<line x1="215.80" y1="200.82" x2="325.50" y2="200.82" stroke="#efefef" stroke-width="1"/>
<line x1="212.80" y1="303.60" x2="215.80" y2="303.60" stroke="#3a3a3a" stroke-width="1"/>
<line x1="214.20" y1="297.89" x2="215.80" y2="297.89" stroke="#3a3a3a" stroke-width="1"/>
<line x1="212.80" y1="292.18" x2="215.80" y2="292.18" stroke="#3a3a3a" stroke-width="1"/>
<line x1="214.20" y1="286.47" x2="215.80" y2="286.47" stroke="#3a3a3a" stroke-width="1"/>
<line x1="212.80" y1="280.76" x2="215.80" y2="280.76" stroke="#3a3a3a" stroke-width="1"/>
<line x1="214.20" y1="275.05" x2="215.80" y2="275.05" stroke="#3a3a3a" stroke-width="1"/>
<line x1="212.80" y1="269.34" x2="215.80" y2="269.34" stroke="#3a3a3a" stroke-width="1"/>
<line x1="214.20" y1="263.63" x2="215.80" y2="263.63" stroke="#3a3a3a" stroke-width="1"/>
<line x1="212.80" y1="257.92" x2="215.80" y2="257.92" stroke="#3a3a3a" stroke-width="1"/>
<line x1="214.20" y1="252.21" x2="215.80" y2="252.21" stroke="#3a3a3a" stroke-width="1"/>
<line x1="212.80" y1="246.50" x2="215.80" y2="246.50" stroke="#3a3a3a" stroke-width="1"/>
<line x1="214.20" y1="240.79" x2="215.80" y2="240.79" stroke="#3a3a3a" stroke-width="1"/>
<line x1="212.80" y1="235.08" x2="215.80" y2="235.08" stroke="#3a3a3a" stroke-width="1"/>
<line x1="214.20" y1="229.37" x2="215.80" y2="229.37" stroke="#3a3a3a" stroke-width="1"/>
<line x1="212.80" y1="223.66" x2="215.80" y2="223.66" stroke="#3a3a3a" stroke-width="1"/>
<line x1="214.20" y1="217.95" x2="215.80" y2="217.95" stroke="#3a3a3a" stroke-width="1"/>
<line x1="212.80" y1="212.24" x2="215.80" y2="212.24" stroke="#3a3a3a" stroke-width="1"/>
<line x1="214.20" y1="206.53" x2="215.80" y2="206.53" stroke="#3a3a3a" stroke-width="1"/>
<line x1="212.80" y1="200.82" x2="215.80" y2="200.82" stroke="#3a3a3a" stroke-width="1"/>
<line x1="214.20" y1="195.11" x2="215.80" y2="195.11" stroke="#3a3a3a" stroke-width="1"/>
<line x1="212.80" y1="189.40" x2="215.80" y2="189.40" stroke="#3a3a3a" stroke-width="1"/>
<line x1="215.80" y1="303.60" x2="215.80" y2="306.60" stroke="#3a3a3a" stroke-width="1"/>
<line x1="221.29" y1="303.60" x2="221.29" y2="305.00" stroke="#3a3a3a" stroke-width="1"/>
<line x1="226.77" y1="303.60" x2="226.77" y2="306.60" stroke="#3a3a3a" stroke-width="1"/>
<line x1="232.25" y1="303.60" x2="232.25" y2="305.00" stroke="#3a3a3a" stroke-width="1"/>
<line x1="237.74" y1="303.60" x2="237.74" y2="306.60" stroke="#3a3a3a" stroke-width="1"/>
<line x1="243.23" y1="303.60" x2="243.23" y2="305.00" stroke="#3a3a3a" stroke-width="1"/>
<line x1="248.71" y1="303.60" x2="248.71" y2="306.60" stroke="#3a3a3a" stroke-width="1"/>
<line x1="254.19" y1="303.60" x2="254.19" y2="305.00" stroke="#3a3a3a" stroke-width="1"/>
<line x1="259.68" y1="303.60" x2="259.68" y2="306.60" stroke="#3a3a3a" stroke-width="1"/>
<line x1="265.17" y1="303.60" x2="265.17" y2="305.00" stroke="#3a3a3a" stroke-width="1"/>
<line x1="270.65" y1="303.60" x2="270.65" y2="306.60" stroke="#3a3a3a" stroke-width="1"/>
<line x1="276.13" y1="303.60" x2="276.13" y2="305.00" stroke="#3a3a3a" stroke-width="1"/>
<line x1="281.62" y1="303.60" x2="281.62" y2="306.60" stroke="#3a3a3a" stroke-width="1"/>
<line x1="287.11" y1="303.60" x2="287.11" y2="305.00" stroke="#3a3a3a" stroke-width="1"/>
<line x1="292.59" y1="303.60" x2="292.59" y2="306.60" stroke="#3a3a3a" stroke-width="1"/>
<line x1="298.07" y1="303.60" x2="298.07" y2="305.00" stroke="#3a3a3a" stroke-width="1"/>
<line x1="303.56" y1="303.60" x2="303.56" y2="306.60" stroke="#3a3a3a" stroke-width="1"/>
<line x1="309.05" y1="303.60" x2="309.05" y2="305.00" stroke="#3a3a3a" stroke-width="1"/>
<line x1="314.53" y1="303.60" x2="314.53" y2="306.60" stroke="#3a3a3a" stroke-width="1"/>
<line x1="320.01" y1="303.60" x2="320.01" y2="305.00" stroke="#3a3a3a" stroke-width="1"/>
<line x1="325.50" y1="303.60" x2="325.50" y2="306.60" stroke="#3a3a3a" stroke-width="1"/>
<text transform="translate(209.70 306.20) scale(1 1.06)" font-size="8.0" text-anchor="end" fill="#222" stroke="#222">0.00</text>
<text transform="translate(209.70 294.78) scale(1 1.06)" font-size="8.0" text-anchor="end" fill="#222" stroke="#222">0.10</text>
<text transform="translate(209.70 283.36) scale(1 1.06)" font-size="8.0" text-anchor="end" fill="#222" stroke="#222">0.20</text>
<text transform="translate(209.70 271.94) scale(1 1.06)" font-size="8.0" text-anchor="end" fill="#222" stroke="#222">0.30</text>
<text transform="translate(209.70 260.52) scale(1 1.06)" font-size="8.0" text-anchor="end" fill="#222" stroke="#222">0.40</text>
<text transform="translate(209.70 249.10) scale(1 1.06)" font-size="8.0" text-anchor="end" fill="#222" stroke="#222">0.50</text>
<text transform="translate(209.70 237.68) scale(1 1.06)" font-size="8.0" text-anchor="end" fill="#222" stroke="#222">0.60</text>
<text transform="translate(209.70 226.26) scale(1 1.06)" font-size="8.0" text-anchor="end" fill="#222" stroke="#222">0.70</text>
<text transform="translate(209.70 214.84) scale(1 1.06)" font-size="8.0" text-anchor="end" fill="#222" stroke="#222">0.80</text>
<text transform="translate(209.70 203.42) scale(1 1.06)" font-size="8.0" text-anchor="end" fill="#222" stroke="#222">0.90</text>
<text transform="translate(209.70 192.00) scale(1 1.06)" font-size="8.0" text-anchor="end" fill="#222" stroke="#222">1.00</text>
<text transform="translate(215.80 316.05) scale(1 1.06)" font-size="8.0" text-anchor="middle" fill="#222" stroke="#222">0.00</text>
<text transform="translate(237.74 316.05) scale(1 1.06)" font-size="8.0" text-anchor="middle" fill="#222" stroke="#222">0.20</text>
<text transform="translate(259.68 316.05) scale(1 1.06)" font-size="8.0" text-anchor="middle" fill="#222" stroke="#222">0.40</text>
<text transform="translate(281.62 316.05) scale(1 1.06)" font-size="8.0" text-anchor="middle" fill="#222" stroke="#222">0.60</text>
<text transform="translate(303.56 316.05) scale(1 1.06)" font-size="8.0" text-anchor="middle" fill="#222" stroke="#222">0.80</text>
<text transform="translate(325.50 316.05) scale(1 1.06)" font-size="8.0" text-anchor="middle" fill="#222" stroke="#222">1.00</text>
<text x="268.20" y="329.60" font-size="7.6" text-anchor="middle" fill="#222" stroke="#222">1-specificity</text>
<text x="268.20" y="338.70" font-size="7.6" text-anchor="middle" fill="#222" stroke="#222">false-positive</text>
<text transform="translate(177.60 248.60) rotate(-90)" font-size="7.8" text-anchor="middle" fill="#222" stroke="#222">True-positive</text>
<text transform="translate(186.80 247.90) rotate(-90)" font-size="7.8" text-anchor="middle" fill="#222" stroke="#222">sensitivity</text>
<text x="169.60" y="192.10" font-size="13.5" font-weight="bold" fill="#111" stroke="#111" style="stroke-width:0.35px">e</text>
<polyline points="226.60,303.60 226.60,282.70 228.40,282.70 228.40,278.70 232.00,278.70 232.00,268.00 236.60,268.00 236.60,264.70 240.20,264.70 240.20,257.70 253.00,257.70 253.00,246.40 255.40,246.40 255.40,243.60 269.40,243.60 269.40,232.00 277.30,232.00 277.30,228.90 279.50,228.90 279.50,223.00 281.00,221.60 281.00,216.90 283.20,215.70 283.20,207.70 285.40,207.70 285.40,204.00 288.30,204.00 288.30,197.40 289.80,195.20 291.20,193.60 320.60,193.60 320.60,189.40" fill="none" stroke="#555" stroke-width="1.0" stroke-linejoin="miter"/>
<polyline points="215.80,189.40 325.50,189.40 325.50,303.60" fill="none" stroke="#6a6a6a" stroke-width="1.6" stroke-linejoin="round"/>
<line x1="215.80" y1="189.10" x2="215.80" y2="304.10" stroke="#3a3a3a" stroke-width="1.1"/>
<line x1="215.30" y1="303.60" x2="326.00" y2="303.60" stroke="#3a3a3a" stroke-width="1.1"/>
<polyline points="215.80,271.00 295.60,188.60" fill="none" stroke="#111" stroke-width="1.6" stroke-linejoin="miter"/>
<circle cx="291.00" cy="191.80" r="2.4" fill="#111"/>
<line x1="297.90" y1="201.00" x2="293.60" y2="196.80" stroke="#1a1a1a" stroke-width="0.9"/>
<line x1="293.60" y1="196.80" x2="294.40" y2="200.10" stroke="#1a1a1a" stroke-width="0.9"/>
<line x1="293.60" y1="196.80" x2="296.92" y2="197.53" stroke="#1a1a1a" stroke-width="0.9"/>
<text x="289.80" y="210.30" font-size="7.6" text-anchor="start" font-weight="bold" fill="#222" stroke="#222">PAC=116</text>
<line x1="397.72" y1="190.10" x2="397.72" y2="302.50" stroke="#efefef" stroke-width="1"/>
<line x1="386.90" y1="291.26" x2="495.10" y2="291.26" stroke="#efefef" stroke-width="1"/>
<line x1="408.54" y1="190.10" x2="408.54" y2="302.50" stroke="#efefef" stroke-width="1"/>
<line x1="386.90" y1="280.02" x2="495.10" y2="280.02" stroke="#efefef" stroke-width="1"/>
<line x1="419.36" y1="190.10" x2="419.36" y2="302.50" stroke="#efefef" stroke-width="1"/>
<line x1="386.90" y1="268.78" x2="495.10" y2="268.78" stroke="#efefef" stroke-width="1"/>
<line x1="430.18" y1="190.10" x2="430.18" y2="302.50" stroke="#efefef" stroke-width="1"/>
<line x1="386.90" y1="257.54" x2="495.10" y2="257.54" stroke="#efefef" stroke-width="1"/>
<line x1="441.00" y1="190.10" x2="441.00" y2="302.50" stroke="#efefef" stroke-width="1"/>
<line x1="386.90" y1="246.30" x2="495.10" y2="246.30" stroke="#efefef" stroke-width="1"/>
<line x1="451.82" y1="190.10" x2="451.82" y2="302.50" stroke="#efefef" stroke-width="1"/>
<line x1="386.90" y1="235.06" x2="495.10" y2="235.06" stroke="#efefef" stroke-width="1"/>
<line x1="462.64" y1="190.10" x2="462.64" y2="302.50" stroke="#efefef" stroke-width="1"/>
<line x1="386.90" y1="223.82" x2="495.10" y2="223.82" stroke="#efefef" stroke-width="1"/>
<line x1="473.46" y1="190.10" x2="473.46" y2="302.50" stroke="#efefef" stroke-width="1"/>
<line x1="386.90" y1="212.58" x2="495.10" y2="212.58" stroke="#efefef" stroke-width="1"/>
<line x1="484.28" y1="190.10" x2="484.28" y2="302.50" stroke="#efefef" stroke-width="1"/>
<line x1="386.90" y1="201.34" x2="495.10" y2="201.34" stroke="#efefef" stroke-width="1"/>
<line x1="383.90" y1="302.50" x2="386.90" y2="302.50" stroke="#3a3a3a" stroke-width="1"/>
<line x1="385.30" y1="296.88" x2="386.90" y2="296.88" stroke="#3a3a3a" stroke-width="1"/>
<line x1="383.90" y1="291.26" x2="386.90" y2="291.26" stroke="#3a3a3a" stroke-width="1"/>
<line x1="385.30" y1="285.64" x2="386.90" y2="285.64" stroke="#3a3a3a" stroke-width="1"/>
<line x1="383.90" y1="280.02" x2="386.90" y2="280.02" stroke="#3a3a3a" stroke-width="1"/>
<line x1="385.30" y1="274.40" x2="386.90" y2="274.40" stroke="#3a3a3a" stroke-width="1"/>
<line x1="383.90" y1="268.78" x2="386.90" y2="268.78" stroke="#3a3a3a" stroke-width="1"/>
<line x1="385.30" y1="263.16" x2="386.90" y2="263.16" stroke="#3a3a3a" stroke-width="1"/>
<line x1="383.90" y1="257.54" x2="386.90" y2="257.54" stroke="#3a3a3a" stroke-width="1"/>
<line x1="385.30" y1="251.92" x2="386.90" y2="251.92" stroke="#3a3a3a" stroke-width="1"/>
<line x1="383.90" y1="246.30" x2="386.90" y2="246.30" stroke="#3a3a3a" stroke-width="1"/>
<line x1="385.30" y1="240.68" x2="386.90" y2="240.68" stroke="#3a3a3a" stroke-width="1"/>
<line x1="383.90" y1="235.06" x2="386.90" y2="235.06" stroke="#3a3a3a" stroke-width="1"/>
<line x1="385.30" y1="229.44" x2="386.90" y2="229.44" stroke="#3a3a3a" stroke-width="1"/>
<line x1="383.90" y1="223.82" x2="386.90" y2="223.82" stroke="#3a3a3a" stroke-width="1"/>
<line x1="385.30" y1="218.20" x2="386.90" y2="218.20" stroke="#3a3a3a" stroke-width="1"/>
<line x1="383.90" y1="212.58" x2="386.90" y2="212.58" stroke="#3a3a3a" stroke-width="1"/>
<line x1="385.30" y1="206.96" x2="386.90" y2="206.96" stroke="#3a3a3a" stroke-width="1"/>
<line x1="383.90" y1="201.34" x2="386.90" y2="201.34" stroke="#3a3a3a" stroke-width="1"/>
<line x1="385.30" y1="195.72" x2="386.90" y2="195.72" stroke="#3a3a3a" stroke-width="1"/>
<line x1="383.90" y1="190.10" x2="386.90" y2="190.10" stroke="#3a3a3a" stroke-width="1"/>
<line x1="386.90" y1="302.50" x2="386.90" y2="305.50" stroke="#3a3a3a" stroke-width="1"/>
<line x1="392.31" y1="302.50" x2="392.31" y2="303.90" stroke="#3a3a3a" stroke-width="1"/>
<line x1="397.72" y1="302.50" x2="397.72" y2="305.50" stroke="#3a3a3a" stroke-width="1"/>
<line x1="403.13" y1="302.50" x2="403.13" y2="303.90" stroke="#3a3a3a" stroke-width="1"/>
<line x1="408.54" y1="302.50" x2="408.54" y2="305.50" stroke="#3a3a3a" stroke-width="1"/>
<line x1="413.95" y1="302.50" x2="413.95" y2="303.90" stroke="#3a3a3a" stroke-width="1"/>
<line x1="419.36" y1="302.50" x2="419.36" y2="305.50" stroke="#3a3a3a" stroke-width="1"/>
<line x1="424.77" y1="302.50" x2="424.77" y2="303.90" stroke="#3a3a3a" stroke-width="1"/>
<line x1="430.18" y1="302.50" x2="430.18" y2="305.50" stroke="#3a3a3a" stroke-width="1"/>
<line x1="435.59" y1="302.50" x2="435.59" y2="303.90" stroke="#3a3a3a" stroke-width="1"/>
<line x1="441.00" y1="302.50" x2="441.00" y2="305.50" stroke="#3a3a3a" stroke-width="1"/>
<line x1="446.41" y1="302.50" x2="446.41" y2="303.90" stroke="#3a3a3a" stroke-width="1"/>
<line x1="451.82" y1="302.50" x2="451.82" y2="305.50" stroke="#3a3a3a" stroke-width="1"/>
<line x1="457.23" y1="302.50" x2="457.23" y2="303.90" stroke="#3a3a3a" stroke-width="1"/>
<line x1="462.64" y1="302.50" x2="462.64" y2="305.50" stroke="#3a3a3a" stroke-width="1"/>
<line x1="468.05" y1="302.50" x2="468.05" y2="303.90" stroke="#3a3a3a" stroke-width="1"/>
<line x1="473.46" y1="302.50" x2="473.46" y2="305.50" stroke="#3a3a3a" stroke-width="1"/>
<line x1="478.87" y1="302.50" x2="478.87" y2="303.90" stroke="#3a3a3a" stroke-width="1"/>
<line x1="484.28" y1="302.50" x2="484.28" y2="305.50" stroke="#3a3a3a" stroke-width="1"/>
<line x1="489.69" y1="302.50" x2="489.69" y2="303.90" stroke="#3a3a3a" stroke-width="1"/>
<line x1="495.10" y1="302.50" x2="495.10" y2="305.50" stroke="#3a3a3a" stroke-width="1"/>
<text transform="translate(380.80 305.10) scale(1 1.06)" font-size="8.0" text-anchor="end" fill="#222" stroke="#222">0.00</text>
<text transform="translate(380.80 293.86) scale(1 1.06)" font-size="8.0" text-anchor="end" fill="#222" stroke="#222">0.10</text>
<text transform="translate(380.80 282.62) scale(1 1.06)" font-size="8.0" text-anchor="end" fill="#222" stroke="#222">0.20</text>
<text transform="translate(380.80 271.38) scale(1 1.06)" font-size="8.0" text-anchor="end" fill="#222" stroke="#222">0.30</text>
<text transform="translate(380.80 260.14) scale(1 1.06)" font-size="8.0" text-anchor="end" fill="#222" stroke="#222">0.40</text>
<text transform="translate(380.80 248.90) scale(1 1.06)" font-size="8.0" text-anchor="end" fill="#222" stroke="#222">0.50</text>
<text transform="translate(380.80 237.66) scale(1 1.06)" font-size="8.0" text-anchor="end" fill="#222" stroke="#222">0.60</text>
<text transform="translate(380.80 226.42) scale(1 1.06)" font-size="8.0" text-anchor="end" fill="#222" stroke="#222">0.70</text>
<text transform="translate(380.80 215.18) scale(1 1.06)" font-size="8.0" text-anchor="end" fill="#222" stroke="#222">0.80</text>
<text transform="translate(380.80 203.94) scale(1 1.06)" font-size="8.0" text-anchor="end" fill="#222" stroke="#222">0.90</text>
<text transform="translate(380.80 192.70) scale(1 1.06)" font-size="8.0" text-anchor="end" fill="#222" stroke="#222">1.00</text>
<text transform="translate(386.90 314.95) scale(1 1.06)" font-size="8.0" text-anchor="middle" fill="#222" stroke="#222">0.00</text>
<text transform="translate(408.54 314.95) scale(1 1.06)" font-size="8.0" text-anchor="middle" fill="#222" stroke="#222">0.20</text>
<text transform="translate(430.18 314.95) scale(1 1.06)" font-size="8.0" text-anchor="middle" fill="#222" stroke="#222">0.40</text>
<text transform="translate(451.82 314.95) scale(1 1.06)" font-size="8.0" text-anchor="middle" fill="#222" stroke="#222">0.60</text>
<text transform="translate(473.46 314.95) scale(1 1.06)" font-size="8.0" text-anchor="middle" fill="#222" stroke="#222">0.80</text>
<text transform="translate(495.10 314.95) scale(1 1.06)" font-size="8.0" text-anchor="middle" fill="#222" stroke="#222">1.00</text>
<text x="438.20" y="328.50" font-size="7.6" text-anchor="middle" fill="#222" stroke="#222">1-specificity</text>
<text x="438.20" y="337.60" font-size="7.6" text-anchor="middle" fill="#222" stroke="#222">false-positive</text>
<text transform="translate(348.10 248.40) rotate(-90)" font-size="7.8" text-anchor="middle" fill="#222" stroke="#222">True-positive</text>
<text transform="translate(357.80 247.50) rotate(-90)" font-size="7.8" text-anchor="middle" fill="#222" stroke="#222">sensitivity</text>
<text x="337.80" y="192.30" font-size="13.5" font-weight="bold" fill="#111" stroke="#111" style="stroke-width:0.35px">f</text>
<polyline points="386.90,302.50 399.80,249.30 418.40,216.70 418.40,207.00 421.10,201.70 430.30,190.40" fill="none" stroke="#383838" stroke-width="0.9" stroke-linejoin="miter"/>
<polyline points="386.90,190.10 495.10,190.10 495.10,302.50" fill="none" stroke="#6a6a6a" stroke-width="1.6" stroke-linejoin="round"/>
<line x1="386.90" y1="189.80" x2="386.90" y2="303.00" stroke="#3a3a3a" stroke-width="1.1"/>
<line x1="386.40" y1="302.50" x2="495.60" y2="302.50" stroke="#3a3a3a" stroke-width="1.1"/>
<polyline points="386.90,235.50 430.30,190.40" fill="none" stroke="#111" stroke-width="1.6" stroke-linejoin="miter"/>
<circle cx="430.30" cy="190.40" r="2.4" fill="#111"/>
<line x1="438.30" y1="198.80" x2="432.60" y2="193.10" stroke="#1a1a1a" stroke-width="0.9"/>
<line x1="432.60" y1="193.10" x2="433.36" y2="196.41" stroke="#1a1a1a" stroke-width="0.9"/>
<line x1="432.60" y1="193.10" x2="435.91" y2="193.86" stroke="#1a1a1a" stroke-width="0.9"/>
<text x="440.80" y="206.40" font-size="7.6" text-anchor="start" font-weight="bold" fill="#222" stroke="#222">PRA=0.6</text>
<line x1="568.54" y1="188.85" x2="568.54" y2="302.60" stroke="#efefef" stroke-width="1"/>
<line x1="557.60" y1="291.23" x2="667.00" y2="291.23" stroke="#efefef" stroke-width="1"/>
<line x1="579.48" y1="188.85" x2="579.48" y2="302.60" stroke="#efefef" stroke-width="1"/>
<line x1="557.60" y1="279.85" x2="667.00" y2="279.85" stroke="#efefef" stroke-width="1"/>
<line x1="590.42" y1="188.85" x2="590.42" y2="302.60" stroke="#efefef" stroke-width="1"/>
<line x1="557.60" y1="268.48" x2="667.00" y2="268.48" stroke="#efefef" stroke-width="1"/>
<line x1="601.36" y1="188.85" x2="601.36" y2="302.60" stroke="#efefef" stroke-width="1"/>
<line x1="557.60" y1="257.10" x2="667.00" y2="257.10" stroke="#efefef" stroke-width="1"/>
<line x1="612.30" y1="188.85" x2="612.30" y2="302.60" stroke="#efefef" stroke-width="1"/>
<line x1="557.60" y1="245.73" x2="667.00" y2="245.73" stroke="#efefef" stroke-width="1"/>
<line x1="623.24" y1="188.85" x2="623.24" y2="302.60" stroke="#efefef" stroke-width="1"/>
<line x1="557.60" y1="234.35" x2="667.00" y2="234.35" stroke="#efefef" stroke-width="1"/>
<line x1="634.18" y1="188.85" x2="634.18" y2="302.60" stroke="#efefef" stroke-width="1"/>
<line x1="557.60" y1="222.97" x2="667.00" y2="222.97" stroke="#efefef" stroke-width="1"/>
<line x1="645.12" y1="188.85" x2="645.12" y2="302.60" stroke="#efefef" stroke-width="1"/>
<line x1="557.60" y1="211.60" x2="667.00" y2="211.60" stroke="#efefef" stroke-width="1"/>
<line x1="656.06" y1="188.85" x2="656.06" y2="302.60" stroke="#efefef" stroke-width="1"/>
<line x1="557.60" y1="200.22" x2="667.00" y2="200.22" stroke="#efefef" stroke-width="1"/>
<line x1="554.60" y1="302.60" x2="557.60" y2="302.60" stroke="#3a3a3a" stroke-width="1"/>
<line x1="556.00" y1="296.91" x2="557.60" y2="296.91" stroke="#3a3a3a" stroke-width="1"/>
<line x1="554.60" y1="291.23" x2="557.60" y2="291.23" stroke="#3a3a3a" stroke-width="1"/>
<line x1="556.00" y1="285.54" x2="557.60" y2="285.54" stroke="#3a3a3a" stroke-width="1"/>
<line x1="554.60" y1="279.85" x2="557.60" y2="279.85" stroke="#3a3a3a" stroke-width="1"/>
<line x1="556.00" y1="274.16" x2="557.60" y2="274.16" stroke="#3a3a3a" stroke-width="1"/>
<line x1="554.60" y1="268.48" x2="557.60" y2="268.48" stroke="#3a3a3a" stroke-width="1"/>
<line x1="556.00" y1="262.79" x2="557.60" y2="262.79" stroke="#3a3a3a" stroke-width="1"/>
<line x1="554.60" y1="257.10" x2="557.60" y2="257.10" stroke="#3a3a3a" stroke-width="1"/>
<line x1="556.00" y1="251.41" x2="557.60" y2="251.41" stroke="#3a3a3a" stroke-width="1"/>
<line x1="554.60" y1="245.73" x2="557.60" y2="245.73" stroke="#3a3a3a" stroke-width="1"/>
<line x1="556.00" y1="240.04" x2="557.60" y2="240.04" stroke="#3a3a3a" stroke-width="1"/>
<line x1="554.60" y1="234.35" x2="557.60" y2="234.35" stroke="#3a3a3a" stroke-width="1"/>
<line x1="556.00" y1="228.66" x2="557.60" y2="228.66" stroke="#3a3a3a" stroke-width="1"/>
<line x1="554.60" y1="222.97" x2="557.60" y2="222.97" stroke="#3a3a3a" stroke-width="1"/>
<line x1="556.00" y1="217.29" x2="557.60" y2="217.29" stroke="#3a3a3a" stroke-width="1"/>
<line x1="554.60" y1="211.60" x2="557.60" y2="211.60" stroke="#3a3a3a" stroke-width="1"/>
<line x1="556.00" y1="205.91" x2="557.60" y2="205.91" stroke="#3a3a3a" stroke-width="1"/>
<line x1="554.60" y1="200.22" x2="557.60" y2="200.22" stroke="#3a3a3a" stroke-width="1"/>
<line x1="556.00" y1="194.54" x2="557.60" y2="194.54" stroke="#3a3a3a" stroke-width="1"/>
<line x1="554.60" y1="188.85" x2="557.60" y2="188.85" stroke="#3a3a3a" stroke-width="1"/>
<line x1="557.60" y1="302.60" x2="557.60" y2="305.60" stroke="#3a3a3a" stroke-width="1"/>
<line x1="563.07" y1="302.60" x2="563.07" y2="304.00" stroke="#3a3a3a" stroke-width="1"/>
<line x1="568.54" y1="302.60" x2="568.54" y2="305.60" stroke="#3a3a3a" stroke-width="1"/>
<line x1="574.01" y1="302.60" x2="574.01" y2="304.00" stroke="#3a3a3a" stroke-width="1"/>
<line x1="579.48" y1="302.60" x2="579.48" y2="305.60" stroke="#3a3a3a" stroke-width="1"/>
<line x1="584.95" y1="302.60" x2="584.95" y2="304.00" stroke="#3a3a3a" stroke-width="1"/>
<line x1="590.42" y1="302.60" x2="590.42" y2="305.60" stroke="#3a3a3a" stroke-width="1"/>
<line x1="595.89" y1="302.60" x2="595.89" y2="304.00" stroke="#3a3a3a" stroke-width="1"/>
<line x1="601.36" y1="302.60" x2="601.36" y2="305.60" stroke="#3a3a3a" stroke-width="1"/>
<line x1="606.83" y1="302.60" x2="606.83" y2="304.00" stroke="#3a3a3a" stroke-width="1"/>
<line x1="612.30" y1="302.60" x2="612.30" y2="305.60" stroke="#3a3a3a" stroke-width="1"/>
<line x1="617.77" y1="302.60" x2="617.77" y2="304.00" stroke="#3a3a3a" stroke-width="1"/>
<line x1="623.24" y1="302.60" x2="623.24" y2="305.60" stroke="#3a3a3a" stroke-width="1"/>
<line x1="628.71" y1="302.60" x2="628.71" y2="304.00" stroke="#3a3a3a" stroke-width="1"/>
<line x1="634.18" y1="302.60" x2="634.18" y2="305.60" stroke="#3a3a3a" stroke-width="1"/>
<line x1="639.65" y1="302.60" x2="639.65" y2="304.00" stroke="#3a3a3a" stroke-width="1"/>
<line x1="645.12" y1="302.60" x2="645.12" y2="305.60" stroke="#3a3a3a" stroke-width="1"/>
<line x1="650.59" y1="302.60" x2="650.59" y2="304.00" stroke="#3a3a3a" stroke-width="1"/>
<line x1="656.06" y1="302.60" x2="656.06" y2="305.60" stroke="#3a3a3a" stroke-width="1"/>
<line x1="661.53" y1="302.60" x2="661.53" y2="304.00" stroke="#3a3a3a" stroke-width="1"/>
<line x1="667.00" y1="302.60" x2="667.00" y2="305.60" stroke="#3a3a3a" stroke-width="1"/>
<text transform="translate(551.50 305.20) scale(1 1.06)" font-size="8.0" text-anchor="end" fill="#222" stroke="#222">0.00</text>
<text transform="translate(551.50 293.83) scale(1 1.06)" font-size="8.0" text-anchor="end" fill="#222" stroke="#222">0.10</text>
<text transform="translate(551.50 282.45) scale(1 1.06)" font-size="8.0" text-anchor="end" fill="#222" stroke="#222">0.20</text>
<text transform="translate(551.50 271.08) scale(1 1.06)" font-size="8.0" text-anchor="end" fill="#222" stroke="#222">0.30</text>
<text transform="translate(551.50 259.70) scale(1 1.06)" font-size="8.0" text-anchor="end" fill="#222" stroke="#222">0.40</text>
<text transform="translate(551.50 248.33) scale(1 1.06)" font-size="8.0" text-anchor="end" fill="#222" stroke="#222">0.50</text>
<text transform="translate(551.50 236.95) scale(1 1.06)" font-size="8.0" text-anchor="end" fill="#222" stroke="#222">0.60</text>
<text transform="translate(551.50 225.57) scale(1 1.06)" font-size="8.0" text-anchor="end" fill="#222" stroke="#222">0.70</text>
<text transform="translate(551.50 214.20) scale(1 1.06)" font-size="8.0" text-anchor="end" fill="#222" stroke="#222">0.80</text>
<text transform="translate(551.50 202.82) scale(1 1.06)" font-size="8.0" text-anchor="end" fill="#222" stroke="#222">0.90</text>
<text transform="translate(551.50 191.45) scale(1 1.06)" font-size="8.0" text-anchor="end" fill="#222" stroke="#222">1.00</text>
<text transform="translate(557.60 315.05) scale(1 1.06)" font-size="8.0" text-anchor="middle" fill="#222" stroke="#222">0.00</text>
<text transform="translate(579.48 315.05) scale(1 1.06)" font-size="8.0" text-anchor="middle" fill="#222" stroke="#222">0.20</text>
<text transform="translate(601.36 315.05) scale(1 1.06)" font-size="8.0" text-anchor="middle" fill="#222" stroke="#222">0.40</text>
<text transform="translate(623.24 315.05) scale(1 1.06)" font-size="8.0" text-anchor="middle" fill="#222" stroke="#222">0.60</text>
<text transform="translate(645.12 315.05) scale(1 1.06)" font-size="8.0" text-anchor="middle" fill="#222" stroke="#222">0.80</text>
<text transform="translate(667.00 315.05) scale(1 1.06)" font-size="8.0" text-anchor="middle" fill="#222" stroke="#222">1.00</text>
<text x="609.70" y="328.60" font-size="7.6" text-anchor="middle" fill="#222" stroke="#222">1-specificity</text>
<text x="609.70" y="337.70" font-size="7.6" text-anchor="middle" fill="#222" stroke="#222">false-positive</text>
<text transform="translate(518.60 247.40) rotate(-90)" font-size="7.8" text-anchor="middle" fill="#222" stroke="#222">True-positive</text>
<text transform="translate(527.80 246.70) rotate(-90)" font-size="7.8" text-anchor="middle" fill="#222" stroke="#222">sensitivity</text>
<text x="510.50" y="192.30" font-size="13.5" font-weight="bold" fill="#111" stroke="#111" style="stroke-width:0.35px">g</text>
<polyline points="557.80,302.60 559.10,289.70 560.30,276.30 560.30,245.00 562.90,236.20 566.50,230.90 576.60,209.40 582.40,205.80 586.60,203.20 591.80,196.90 596.00,193.60 599.80,191.20 602.80,188.85" fill="none" stroke="#383838" stroke-width="0.9" stroke-linejoin="miter"/>
<polyline points="557.60,188.85 667.00,188.85 667.00,302.60" fill="none" stroke="#6a6a6a" stroke-width="1.6" stroke-linejoin="round"/>
<line x1="557.60" y1="188.55" x2="557.60" y2="303.10" stroke="#3a3a3a" stroke-width="1.1"/>
<line x1="557.10" y1="302.60" x2="667.50" y2="302.60" stroke="#3a3a3a" stroke-width="1.1"/>
<polyline points="557.60,230.00 597.30,188.85" fill="none" stroke="#111" stroke-width="1.6" stroke-linejoin="miter"/>
<circle cx="576.80" cy="209.40" r="2.4" fill="#111"/>
<line x1="585.40" y1="219.60" x2="579.50" y2="213.50" stroke="#1a1a1a" stroke-width="0.9"/>
<line x1="579.50" y1="213.50" x2="580.21" y2="216.83" stroke="#1a1a1a" stroke-width="0.9"/>
<line x1="579.50" y1="213.50" x2="582.80" y2="214.32" stroke="#1a1a1a" stroke-width="0.9"/>
<text x="586.40" y="228.40" font-size="7.6" text-anchor="start" font-weight="bold" fill="#222" stroke="#222">PRA=0.4</text>
</g></svg></body></html>
